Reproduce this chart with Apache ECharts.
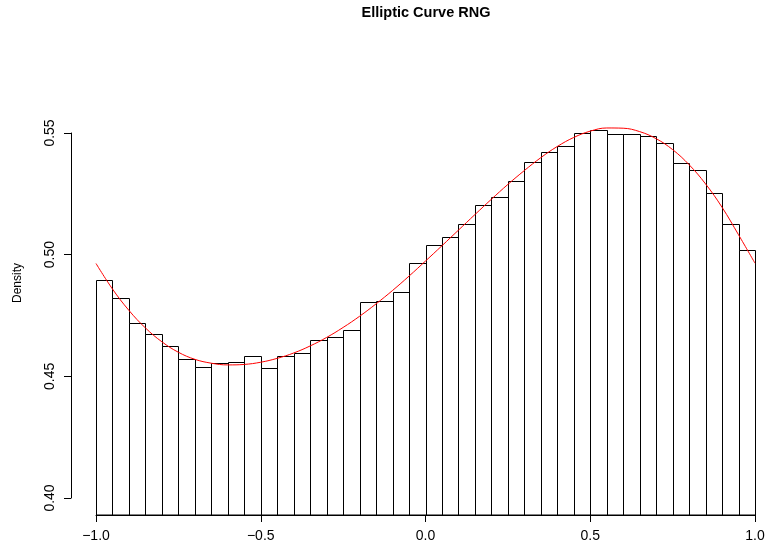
<!DOCTYPE html>
<html>
<head>
<meta charset="utf-8">
<script src="https://cdn.jsdelivr.net/npm/echarts@6/dist/echarts.min.js"></script>
<style>
html,body{margin:0;padding:0;background:#fff;}
#chart{width:768px;height:552px;}
</style>
</head>
<body>
<div id="chart"></div>
<script>
// ---- data ----
const chartTitle = 'Elliptic Curve RNG';
const yTitle = 'Density';
const binWidth = 0.05;
const binLeft = [-1.00,-0.95,-0.90,-0.85,-0.80,-0.75,-0.70,-0.65,-0.60,-0.55,
                 -0.50,-0.45,-0.40,-0.35,-0.30,-0.25,-0.20,-0.15,-0.10,-0.05,
                  0.00, 0.05, 0.10, 0.15, 0.20, 0.25, 0.30, 0.35, 0.40, 0.45,
                  0.50, 0.55, 0.60, 0.65, 0.70, 0.75, 0.80, 0.85, 0.90, 0.95];
const density = [0.4895,0.4821,0.4719,0.4673,0.4626,0.4570,0.4537,0.4556,0.4560,0.4582,
                 0.4533,0.4583,0.4595,0.4648,0.4663,0.4691,0.4804,0.4811,0.4845,0.4966,
                 0.5040,0.5073,0.5128,0.5204,0.5237,0.5303,0.5382,0.5424,0.5447,0.5502,
                 0.5511,0.5495,0.5497,0.5487,0.5458,0.5377,0.5348,0.5253,0.5128,0.5018];
// red density curve, read at every 0.05
const curveX = [-1.00,-0.95,-0.90,-0.85,-0.80,-0.75,-0.70,-0.65,-0.60,-0.55,
                -0.50,-0.45,-0.40,-0.35,-0.30,-0.25,-0.20,-0.15,-0.10,-0.05,
                 0.00, 0.05, 0.10, 0.15, 0.20, 0.25, 0.30, 0.35, 0.40, 0.45,
                 0.50, 0.55, 0.60, 0.65, 0.70, 0.75, 0.80, 0.85, 0.90, 0.95, 1.00];
const curveY = [0.4964,0.4859,0.4771,0.4699,0.4642,0.4599,0.4570,0.4554,0.4547,0.4549,
                0.4558,0.4574,0.4596,0.4625,0.4660,0.4701,0.4747,0.4798,0.4853,0.4912,
                0.4974,0.5037,0.5101,0.5165,0.5228,0.5289,0.5346,0.5399,0.5445,0.5482,
                0.5508,0.5521,0.5520,0.5506,0.5477,0.5432,0.5370,0.5291,0.5195,0.5082,0.4965];
const xTicks = {min: -1, max: 1, interval: 0.5};
const yTicks = {min: 0.40, max: 0.55, interval: 0.05};

// ---- chart ----
const FONT = '"Liberation Sans", Arial, Helvetica, sans-serif';
const chart = echarts.init(document.getElementById('chart'), null, {renderer: 'canvas'});

const histData = binLeft.map((x0, i) => [x0, x0 + binWidth, density[i]]);
const curveData = curveX.map((x, i) => [x, curveY[i]]);

function fmtNum(v, d) {
  const s = Math.abs(v).toFixed(d);
  return v < 0 ? '\u2212' + s : s;
}

const option = {
  backgroundColor: '#ffffff',
  animation: false,
  title: {
    text: chartTitle,
    left: 426,
    top: 5,
    padding: 0,
    textAlign: 'center',
    textStyle: {fontFamily: FONT, fontWeight: 'bold', fontSize: 14.5, color: '#000'}
  },
  graphic: [{
    type: 'text',
    x: 18,
    y: 283,
    rotation: Math.PI / 2,
    style: {text: yTitle, font: '12px ' + FONT, fill: '#000', align: 'center', verticalAlign: 'middle'}
  }],
  grid: [
    {left: 96, right: 13, top: 118, bottom: 37},
    {left: 71, width: 1, top: 133, bottom: 54}
  ],
  xAxis: [
    {
      gridIndex: 0, type: 'value', min: xTicks.min, max: xTicks.max, interval: xTicks.interval,
      axisLine: {show: true, lineStyle: {color: '#000', width: 1}},
      axisTick: {show: true, length: 7, lineStyle: {color: '#000'}},
      axisLabel: {fontFamily: FONT, fontSize: 14, color: '#000', margin: 14,
                  formatter: v => fmtNum(v, 1)},
      splitLine: {show: false}
    },
    {gridIndex: 1, type: 'value', show: false, min: 0, max: 1}
  ],
  yAxis: [
    {
      gridIndex: 0, type: 'value', min: 0.393, max: 0.5562, show: false,
      splitLine: {show: false}
    },
    {
      gridIndex: 1, type: 'value', min: yTicks.min, max: yTicks.max, interval: yTicks.interval,
      axisLine: {show: true, lineStyle: {color: '#000', width: 1}},
      axisTick: {show: true, length: 7, lineStyle: {color: '#000'}},
      axisLabel: {fontFamily: FONT, fontSize: 14, color: '#000', margin: 14, rotate: 90,
                  formatter: v => v.toFixed(2)},
      splitLine: {show: false}
    }
  ],
  series: [
    {
      type: 'custom',
      xAxisIndex: 0, yAxisIndex: 0,
      data: histData,
      encode: {x: [0, 1], y: 2},
      clip: false,
      renderItem: function (params, api) {
        const p0 = api.coord([api.value(0), api.value(2)]);
        const p1 = api.coord([api.value(1), api.value(2)]);
        const cs = params.coordSys;
        const bottom = cs.y + cs.height;
        const x0 = Math.round(p0[0]) + 0.5;
        const x1 = Math.round(p1[0]) + 0.5;
        const yt = Math.round(p0[1]) + 0.5;
        return {
          type: 'rect',
          shape: {x: x0, y: yt, width: x1 - x0, height: bottom - yt},
          style: {fill: '#ffffff', stroke: '#000000', lineWidth: 1}
        };
      },
      z: 2
    },
    {
      type: 'line',
      xAxisIndex: 0, yAxisIndex: 0,
      data: curveData,
      smooth: 0.4,
      showSymbol: false,
      symbol: 'none',
      lineStyle: {color: '#ff0000', width: 1},
      z: 3
    }
  ]
};
chart.setOption(option);
</script>
</body>
</html>
